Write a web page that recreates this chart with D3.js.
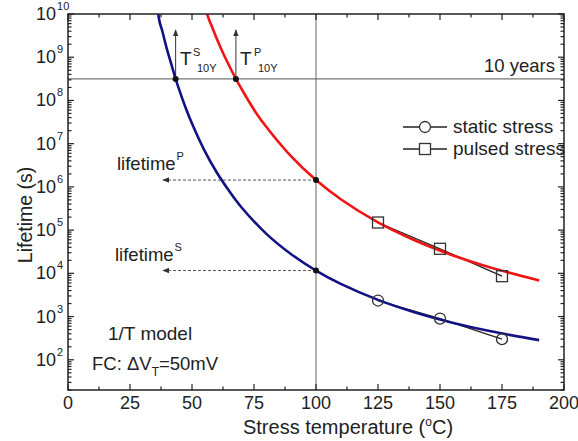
<!DOCTYPE html>
<html><head><meta charset="utf-8">
<script src="https://cdn.jsdelivr.net/npm/d3@7/dist/d3.min.js"></script>
<style>body{margin:0;background:#fff}svg{display:block}text{font-family:"Liberation Sans",Arial,sans-serif;fill:#222}</style>
</head><body><svg id="c" width="578" height="441"></svg>
<script>
// ---- data ----
const xTicks = [0, 25, 50, 75, 100, 125, 150, 175, 200];
const yTickExps = [2, 3, 4, 5, 6, 7, 8, 9, 10];
const staticFitT = [36.4, 37, 38, 39, 40, 41, 43.4, 45, 47.5, 50, 55, 60, 65, 70, 80, 90, 100, 110, 125, 140, 155, 170, 190];
const staticFitLife = [1.0e10, 6.3e9, 4.1e9, 2.4e9, 1.46e9, 9.3e8, 3.15e8, 1.66e8, 6.6e7, 2.92e7, 7.0e6, 2.15e6, 8.0e5, 3.33e5, 8.2e4, 2.77e4, 1.16e4, 5.7e3, 2.43e3, 1.24e3, 722, 462, 285];
const pulsedFitT = [56.1, 57, 58, 60, 62, 64, 67.7, 72, 76, 80, 90, 100, 110, 125, 140, 155, 170, 190];
const pulsedFitLife = [1.0e10, 7.1e9, 5.15e9, 2.69e9, 1.45e9, 8.3e8, 3.15e8, 1.17e8, 5.0e7, 2.43e7, 5.07e6, 1.44e6, 5.18e5, 1.51e5, 5.74e4, 2.63e4, 1.38e4, 6.87e3];
const measT = [125, 150, 175];
const staticLife = [2350, 900, 300];
const pulsedLife = [1.5e5, 3.7e4, 8.6e3];
const tenYears = 3.15e8;
const refTemp = 100;
const t10S = 43.4, t10P = 67.7;
const lifeAtRefS = 1.16e4, lifeAtRefP = 1.44e6;

// ---- layout ----
const svg = d3.select("#c");
const L = 68, R = 564, T = 14, B = 390;
const x = d3.scaleLinear().domain([0, 200]).range([L, R]);
const y = d3.scaleLog().domain([20, 1e10]).range([B, T]);
const ink = "#222";

const defs = svg.append("defs");
defs.append("clipPath").attr("id", "pc").append("rect")
  .attr("x", L).attr("y", T).attr("width", R - L).attr("height", B - T);
defs.append("marker").attr("id", "ah").attr("viewBox", "0 0 10 10").attr("refX", 9).attr("refY", 5)
  .attr("markerWidth", 7).attr("markerHeight", 7).attr("orient", "auto-start-reverse")
  .append("path").attr("d", "M0,1 L10,5 L0,9 Z").attr("fill", "#333");

// reference lines
svg.append("line").attr("x1", L).attr("x2", R).attr("y1", y(tenYears)).attr("y2", y(tenYears))
  .attr("stroke", "#555").attr("stroke-width", 1);
svg.append("line").attr("x1", x(refTemp)).attr("x2", x(refTemp)).attr("y1", T).attr("y2", B)
  .attr("stroke", "#666").attr("stroke-width", 1);

// dashed arrows
[lifeAtRefP, lifeAtRefS].forEach(v => {
  svg.append("line").attr("x1", x(refTemp)).attr("x2", 163).attr("y1", y(v)).attr("y2", y(v))
    .attr("stroke", "#555").attr("stroke-width", 1).attr("stroke-dasharray", "3,2")
    .attr("marker-end", "url(#ah)");
});
// vertical arrows
[t10S, t10P].forEach(t => {
  svg.append("line").attr("x1", x(t)).attr("x2", x(t)).attr("y1", y(tenYears)).attr("y2", 30)
    .attr("stroke", "#333").attr("stroke-width", 1).attr("marker-end", "url(#ah)");
});

// data lines (black) under fits
const g = svg.append("g").attr("clip-path", "url(#pc)");
const dl = d3.line().x(d => x(d[0])).y(d => y(d[1]));
g.append("path").attr("d", dl(measT.map((t, i) => [t, staticLife[i]]))).attr("fill", "none").attr("stroke", "#222").attr("stroke-width", 1.3);
g.append("path").attr("d", dl(measT.map((t, i) => [t, pulsedLife[i]]))).attr("fill", "none").attr("stroke", "#222").attr("stroke-width", 1.3);

// fits
const fl = d3.line().x(d => x(d[0])).y(d => y(d[1])).curve(d3.curveCatmullRom);
g.append("path").attr("d", fl(staticFitT.map((t, i) => [t, staticFitLife[i]]))).attr("fill", "none").attr("stroke", "#121285").attr("stroke-width", 2.6);
g.append("path").attr("d", fl(pulsedFitT.map((t, i) => [t, pulsedFitLife[i]]))).attr("fill", "none").attr("stroke", "#f01414").attr("stroke-width", 2.6);

// markers
measT.forEach((t, i) => {
  svg.append("circle").attr("cx", x(t)).attr("cy", y(staticLife[i])).attr("r", 5.5)
    .attr("fill", "none").attr("stroke", "#333").attr("stroke-width", 1.3);
  svg.append("rect").attr("x", x(t) - 5.5).attr("y", y(pulsedLife[i]) - 5.5).attr("width", 11).attr("height", 11)
    .attr("fill", "none").attr("stroke", "#333").attr("stroke-width", 1.3);
});

// black dots
[[t10S, tenYears], [t10P, tenYears], [refTemp, lifeAtRefS], [refTemp, lifeAtRefP]].forEach(([t, v]) => {
  svg.append("circle").attr("cx", x(t)).attr("cy", y(v)).attr("r", 3).attr("fill", "#111");
});

// frame
svg.append("rect").attr("x", L).attr("y", T).attr("width", R - L).attr("height", B - T)
  .attr("fill", "none").attr("stroke", ink).attr("stroke-width", 1.5);

// x ticks
const xMinor = d3.range(0, 201, 12.5);
const tk = svg.append("g").attr("stroke", ink).attr("stroke-width", 1.2);
xMinor.forEach(v => {
  const major = xTicks.includes(v);
  const len = major ? 6 : 3.5;
  tk.append("line").attr("x1", x(v)).attr("x2", x(v)).attr("y1", B).attr("y2", B - len);
  tk.append("line").attr("x1", x(v)).attr("x2", x(v)).attr("y1", T).attr("y2", T + len);
});
svg.append("g").selectAll("text").data(xTicks).join("text")
  .attr("x", d => x(d)).attr("y", 409).attr("text-anchor", "middle").attr("font-size", 18).text(d => d);

// y ticks
for (let e = 1; e <= 9; e++) {
  for (let m = 1; m <= 9; m++) {
    const v = m * Math.pow(10, e);
    if (v < 20 || v > 1e10) continue;
    const len = m === 1 ? 6 : 3.5;
    tk.append("line").attr("x1", L).attr("x2", L + len).attr("y1", y(v)).attr("y2", y(v));
    tk.append("line").attr("x1", R).attr("x2", R - len).attr("y1", y(v)).attr("y2", y(v));
  }
}
tk.append("line").attr("x1", L).attr("x2", L + 6).attr("y1", y(1e10)).attr("y2", y(1e10));
tk.append("line").attr("x1", R).attr("x2", R - 6).attr("y1", y(1e10)).attr("y2", y(1e10));

yTickExps.forEach(e => {
  const t = svg.append("text").attr("x", 36).attr("y", y(Math.pow(10, e)) + 6).attr("font-size", 18);
  t.append("tspan").text("10");
  t.append("tspan").attr("font-size", 11).attr("dx", 1).attr("dy", -10).text(e);
});

// axis titles
svg.append("text").attr("transform", "translate(32,215) rotate(-90)").attr("text-anchor", "middle")
  .attr("font-size", 19.5).text("Lifetime (s)");
const xt = svg.append("text").attr("x", 348).attr("y", 434).attr("text-anchor", "middle").attr("font-size", 20);
xt.append("tspan").text("Stress temperature (");
xt.append("tspan").attr("font-size", 12).attr("dy", -8).text("o");
xt.append("tspan").attr("dy", 8).text("C)");

// annotations
svg.append("text").attr("x", 180).attr("y", 65).attr("font-size", 19).text("T");
svg.append("text").attr("x", 193).attr("y", 56).attr("font-size", 11).text("S");
svg.append("text").attr("x", 197).attr("y", 72).attr("font-size", 11).text("10Y");
svg.append("text").attr("x", 240).attr("y", 65).attr("font-size", 19).text("T");
svg.append("text").attr("x", 254).attr("y", 56).attr("font-size", 11).text("P");
svg.append("text").attr("x", 258).attr("y", 72).attr("font-size", 11).text("10Y");

[["P", lifeAtRefP, 117], ["S", lifeAtRefS, 115]].forEach(([s, v, xp]) => {
  const t = svg.append("text").attr("x", xp).attr("y", y(v) - 10).attr("font-size", 18.5);
  t.append("tspan").text("lifetime");
  t.append("tspan").attr("font-size", 11).attr("dx", 1).attr("dy", -10).text(s);
});

svg.append("text").attr("x", 555).attr("y", 72).attr("text-anchor", "end").attr("font-size", 18.5).text("10 years");

svg.append("text").attr("x", 108).attr("y", 340).attr("font-size", 19).text("1/T model");
const fc = svg.append("text").attr("x", 92).attr("y", 370).attr("font-size", 18.5);
fc.append("tspan").text("FC: \u0394V");
fc.append("tspan").attr("font-size", 12).attr("dy", 6).text("T");
fc.append("tspan").attr("dy", -6).text("=50mV");

// legend
const leg = [["static stress", "circle", 127], ["pulsed stress", "square", 149]];
leg.forEach(([lab, shp, ly]) => {
  svg.append("line").attr("x1", 403).attr("x2", 447).attr("y1", ly).attr("y2", ly).attr("stroke", "#222").attr("stroke-width", 1.3);
  if (shp === "circle") svg.append("circle").attr("cx", 425).attr("cy", ly).attr("r", 5.5).attr("fill", "#fff").attr("stroke", "#333").attr("stroke-width", 1.3);
  else svg.append("rect").attr("x", 419.5).attr("y", ly - 5.5).attr("width", 11).attr("height", 11).attr("fill", "#fff").attr("stroke", "#333").attr("stroke-width", 1.3);
  svg.append("text").attr("x", 453).attr("y", ly + 6).attr("font-size", 19).text(lab);
});
</script></body></html>
